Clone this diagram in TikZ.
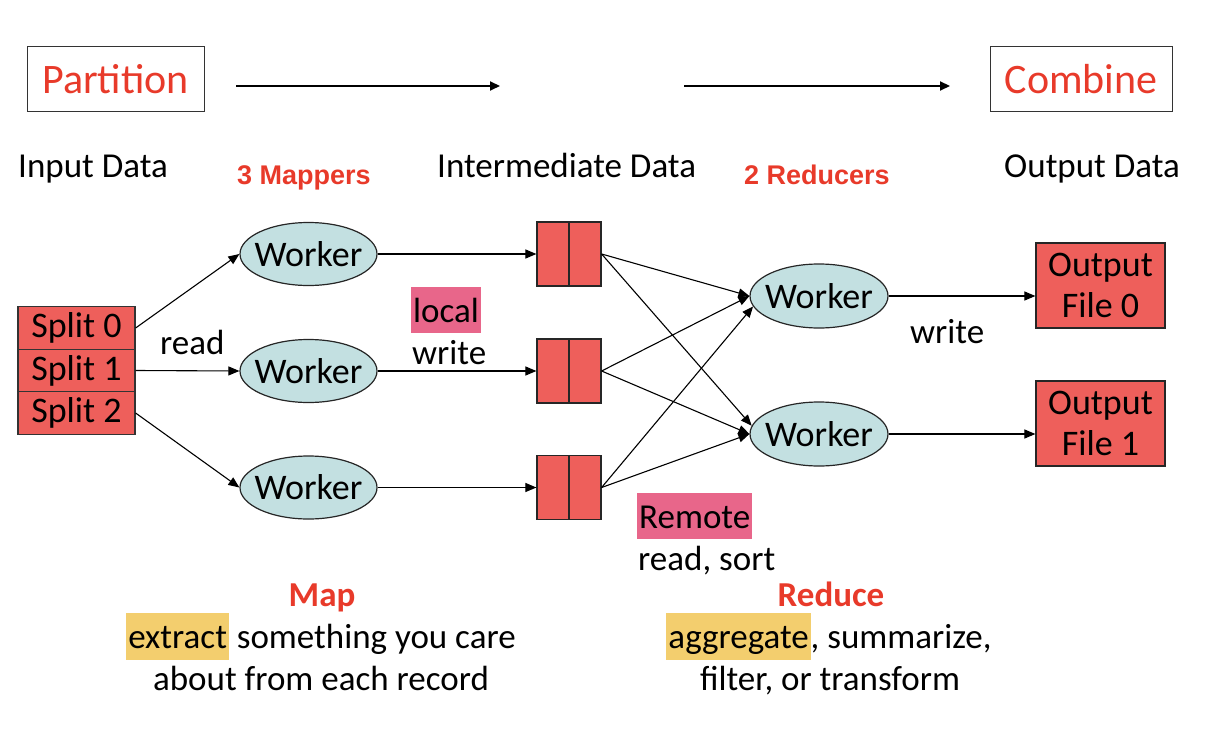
\documentclass[tikz,border=0pt]{standalone}
\usepackage{fontspec}
\setmainfont{Carlito}
\newfontfamily\arialfont{Liberation Sans}
\usetikzlibrary{shapes.geometric,arrows.meta}
\definecolor{boxred}{HTML}{EE5F5B}
\definecolor{ellblue}{HTML}{C3E0E1}
\definecolor{txtred}{HTML}{E83A2A}
\definecolor{hlpink}{HTML}{E8668A}
\definecolor{hlyellow}{HTML}{F3CE6E}
\newcommand{\hlword}[1]{{\setlength{\fboxsep}{0pt}\colorbox{hlyellow}{\rule[-12pt]{0pt}{47pt}\kern2pt#1\kern2pt}}}
\begin{document}
\begin{tikzpicture}[x=1pt,y=-1pt,
  every node/.style={font=\fontsize{35}{41}\selectfont, inner sep=0pt},
  titlebox/.style={draw=black!80, line width=1pt, minimum width=177pt, minimum height=65pt, text=txtred, font=\fontsize{42}{49}\selectfont},
  splitbox/.style={draw=black!80, fill=boxred, line width=1.2pt, minimum width=117pt, minimum height=42.5pt, font=\fontsize{36}{41}\selectfont},
  worker/.style={ellipse, draw=black!85, fill=ellblue, line width=1.2pt, minimum width=137pt, minimum height=63pt, label={[font=\fontsize{36}{41}\selectfont]center:Worker}},
  interbox/.style={draw=black!85, fill=boxred, line width=1.2pt, minimum width=64pt, minimum height=64pt},
  outbox/.style={draw=black!85, fill=boxred, line width=1.2pt, minimum width=129pt, minimum height=85pt, align=center, font=\fontsize{36}{41}\selectfont},
  flow/.style={-{Triangle[length=11pt,width=9pt]}, line width=1.1pt},
  bigflow/.style={-{Triangle[length=10pt,width=9pt]}, line width=2pt},
  lbl/.style={anchor=base west},
  redlbl/.style={anchor=base west, text=txtred, font=\arialfont\bfseries\fontsize{27}{31}\selectfont},
  hlbox/.style={anchor=base west, text height=33pt, text depth=9pt, inner xsep=2pt, inner ysep=2pt},
  headred/.style={anchor=base, text=txtred, font=\bfseries\fontsize{35}{41}\selectfont}
]
\useasboundingbox (0,0) rectangle (1206,738);

% top row
\node[titlebox] (part) at (115.5,79.5) {Partition};
\node[titlebox, minimum width=182pt] (comb) at (1081,79.5) {Combine};
\coordinate (a1s) at (236,86);
\coordinate (a1e) at (500,86);
\coordinate (a2s) at (684,86);
\coordinate (a2e) at (950,86);
\draw[bigflow] (a1s) -- (a1e);
\draw[bigflow] (a2s) -- (a2e);

% column headings
\node[lbl] (inp) at (18,178) {Input Data};
\node[redlbl] (map3) at (237,184) {3 Mappers};
\node[lbl] (intd) at (437,178) {Intermediate Data};
\node[redlbl] (red2) at (744,184) {2 Reducers};
\node[lbl] (outd) at (1004,178) {Output Data};

% splits
\node[splitbox] (s0) at (76.5,328) {Split 0};
\node[splitbox] (s1) at (76.5,370.5) {Split 1};
\node[splitbox] (s2) at (76.5,413) {Split 2};

% map workers
\node[worker] (w1) at (308.5,254) {};
\node[worker] (w2) at (308.5,371) {};
\node[worker] (w3) at (308.5,487.5) {};

% intermediate boxes
\node[interbox] (i1) at (569,254) {};
\node[interbox] (i2) at (569,371) {};
\node[interbox] (i3) at (569,487.5) {};
\foreach \n in {i1,i2,i3}{\draw[line width=1.2pt, black!85] (\n.north) -- (\n.south);}

% reduce workers
\node[worker, minimum width=138pt, minimum height=64pt] (r1) at (819,296) {};
\node[worker, minimum width=138pt, minimum height=64pt] (r2) at (819,434) {};

% outputs
\node[outbox] (o1) at (1100.5,285.5) {Output\\File 0};
\node[outbox] (o2) at (1100.5,423.5) {Output\\File 1};

% connectors
\draw[flow] (s0.east) -- (w1.west);
\draw[flow] (s1.east) -- (w2.west);
\draw[flow] (s2.east) -- (w3.west);
\draw[flow] (w1.east) -- (i1.west);
\draw[flow] (w2.east) -- (i2.west);
\draw[flow] (w3.east) -- (i3.west);
\draw[flow] (i1.east) -- (r1.west);
\draw[flow] (i2.east) -- (r1.west);
\draw[flow] (i3.east) -- (r1.189);
\draw[flow] (i1.east) -- (r2.173);
\draw[flow] (i2.east) -- (r2.west);
\draw[flow] (i3.east) -- (r2.west);
\draw[flow] (r1.east) -- (r1.east -| o1.west);
\draw[flow] (r2.east) -- (r2.east -| o2.west);

% labels
\node[lbl] (rd) at (160,354) {read};
\node[hlbox, fill=hlpink] (loc) at (411,322) {local};
\node[lbl] (wr1) at (412,364) {write};
\node[lbl] (wr2) at (910,343) {write};
\node[hlbox, fill=hlpink] (rem) at (637,528) {Remote};
\node[lbl] (rs) at (638,570) {read, sort};

% bottom captions
\node[headred] (maph) at (322,606) {Map};
\node[anchor=base] (mapa) at (321,648) {\hlword{extract} something you care};
\node[anchor=base] (mapb) at (321,690) {about from each record};
\node[headred] (redh) at (831,606) {Reduce};
\node[anchor=base] (reda) at (829,648) {\hlword{aggregate}, summarize,};
\node[anchor=base] (redb) at (830,690) {filter, or transform};
\end{tikzpicture}
\end{document}
